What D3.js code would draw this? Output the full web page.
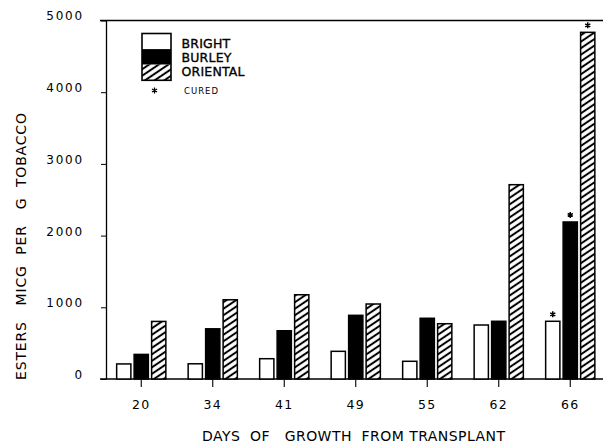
<!DOCTYPE html>
<html>
<head>
<meta charset="utf-8">
<script src="https://cdn.jsdelivr.net/npm/d3@7"></script>
<style>
  html, body { margin: 0; padding: 0; background: #fff; }
  svg { display: block; }
  text { font-family: "DejaVu Sans", sans-serif; fill: #000; white-space: pre; }
</style>
</head>
<body>
<svg id="chart" width="603" height="443"></svg>
<script>
// Ester content (micrograms per gram of tobacco) by days of growth from transplant
const days = ["20", "34", "41", "49", "55", "62", "66"];
const series = ["BRIGHT", "BURLEY", "ORIENTAL"];
const bright   = [210, 212, 283, 386, 247, 753, 805];
const burley   = [343, 700, 673, 888, 847, 805, 2190];
const oriental = [803, 1105, 1175, 1046, 771, 2710, 4835];
const curedDays = ["66"];            // samples marked with an asterisk (cured)
const yTicks = [0, 1000, 2000, 3000, 4000, 5000];

const values = { BRIGHT: bright, BURLEY: burley, ORIENTAL: oriental };
const rows = days.map((d, i) => ({
  day: d,
  bars: series.map(s => ({ key: s, value: values[s][i], cured: curedDays.includes(d) }))
}));

const svg = d3.select("#chart");

const x = d3.scaleBand().domain(days).range([105.5, 606]).paddingInner(0).paddingOuter(0);
const x1 = d3.scaleBand().domain(series).range([-24.6, 24.6]).paddingInner(0.186).paddingOuter(0);
const y = d3.scaleLinear().domain([0, 5000]).range([379, 20.5]);

// hatch pattern for Oriental
const defs = svg.append("defs");
const pat = defs.append("pattern")
  .attr("id", "hatch")
  .attr("patternUnits", "userSpaceOnUse")
  .attr("width", 10).attr("height", 5.4)
  .attr("patternTransform", "rotate(-34)");
pat.append("rect").attr("width", 10).attr("height", 5.4).attr("fill", "#fff");
pat.append("line")
  .attr("x1", 0).attr("x2", 10).attr("y1", 2.7).attr("y2", 2.7)
  .attr("stroke", "#000").attr("stroke-width", 2);

const fillFor = { BRIGHT: "#fff", BURLEY: "#000", ORIENTAL: "url(#hatch)" };

// frame lines: top rule, baseline and left axis
svg.append("line").attr("x1", 100).attr("x2", 603).attr("y1", y(5000)).attr("y2", y(5000))
  .attr("stroke", "#000").attr("stroke-width", 1.6);
svg.append("line").attr("x1", 100).attr("x2", 603).attr("y1", y(0)).attr("y2", y(0))
  .attr("stroke", "#000").attr("stroke-width", 1.5);

// y axis
const yAxis = svg.append("g")
  .attr("transform", "translate(106,0)")
  .call(d3.axisLeft(y).tickValues(yTicks).tickFormat(d3.format("d"))
    .tickSize(5).tickSizeOuter(0).tickPadding(17));
yAxis.select(".domain").attr("stroke", "#000").attr("stroke-width", 1.3);
yAxis.selectAll(".tick line").attr("stroke", "#000").attr("stroke-width", 1);
yAxis.selectAll(".tick text")
  .attr("dy", "-0.05em")
  .style("font-size", "12px")
  .style("letter-spacing", "1.8px")
  .style("font-family", "DejaVu Sans, sans-serif")
  .attr("fill", "#000");

// x axis
const xAxis = svg.append("g")
  .attr("transform", `translate(0,${y(0)})`)
  .call(d3.axisBottom(x).tickSize(8).tickSizeOuter(0));
xAxis.select(".domain").remove();
xAxis.selectAll(".tick line").attr("stroke", "#000").attr("stroke-width", 1.1);
xAxis.selectAll(".tick text")
  .attr("y", 30).attr("dy", 0)
  .style("font-size", "12.5px")
  .style("letter-spacing", "1.4px")
  .style("font-family", "DejaVu Sans, sans-serif")
  .attr("fill", "#000");

// bars
const groups = svg.append("g").selectAll("g")
  .data(rows).join("g")
  .attr("transform", d => `translate(${x(d.day) + x.bandwidth() / 2},0)`);

groups.selectAll("rect")
  .data(d => d.bars).join("rect")
  .attr("x", d => x1(d.key))
  .attr("width", x1.bandwidth())
  .attr("y", d => y(d.value))
  .attr("height", d => y(0) - y(d.value))
  .attr("fill", d => fillFor[d.key])
  .attr("stroke", "#000")
  .attr("stroke-width", 1.5);

// asterisks for cured samples
const star = d3.symbol().type(d3.symbolAsterisk).size(24);
groups.selectAll("path.star")
  .data(d => d.bars.filter(b => b.cured)).join("path")
  .attr("class", "star")
  .attr("d", star)
  .attr("transform", d => `translate(${x1(d.key) + x1.bandwidth() / 2},${y(d.value) - 7})`)
  .attr("fill", "none").attr("stroke", "#000").attr("stroke-width", 1.5);

// legend
const leg = svg.append("g").attr("transform", "translate(142,33.5)");
const segH = 15.6;
series.forEach((s, i) => {
  leg.append("rect")
    .attr("x", 0).attr("y", i * segH)
    .attr("width", 29).attr("height", segH)
    .attr("fill", fillFor[s]);
  leg.append("text")
    .attr("x", 39.5).attr("y", 14.3 + i * 14.3)
    .style("font-size", "12.5px")
    .style("letter-spacing", "0.2px")
    .attr("stroke", "#000").attr("stroke-width", 0.35)
    .text(s);
});
leg.append("rect").attr("width", 29).attr("height", segH * 3)
  .attr("fill", "none").attr("stroke", "#000").attr("stroke-width", 1.6);
leg.append("path").attr("d", star)
  .attr("transform", "translate(12.5,57)")
  .attr("fill", "none").attr("stroke", "#000").attr("stroke-width", 1.3);
leg.append("text").attr("x", 42).attr("y", 60.5)
  .style("font-size", "8.5px").style("letter-spacing", "1px")
  .text("CURED");

// axis titles
svg.append("text")
  .attr("x", 202).attr("y", 441)
  .attr("textLength", 303).attr("lengthAdjust", "spacing")
  .style("font-size", "14px")
  .text("DAYS  OF   GROWTH  FROM TRANSPLANT");

svg.append("text")
  .attr("transform", "translate(25.5,380) rotate(-90)")
  .attr("x", 0).attr("y", 0)
  .attr("textLength", 267).attr("lengthAdjust", "spacing")
  .style("font-size", "14px")
  .text("ESTERS   MICG  PER   G  TOBACCO");
</script>
</body>
</html>
